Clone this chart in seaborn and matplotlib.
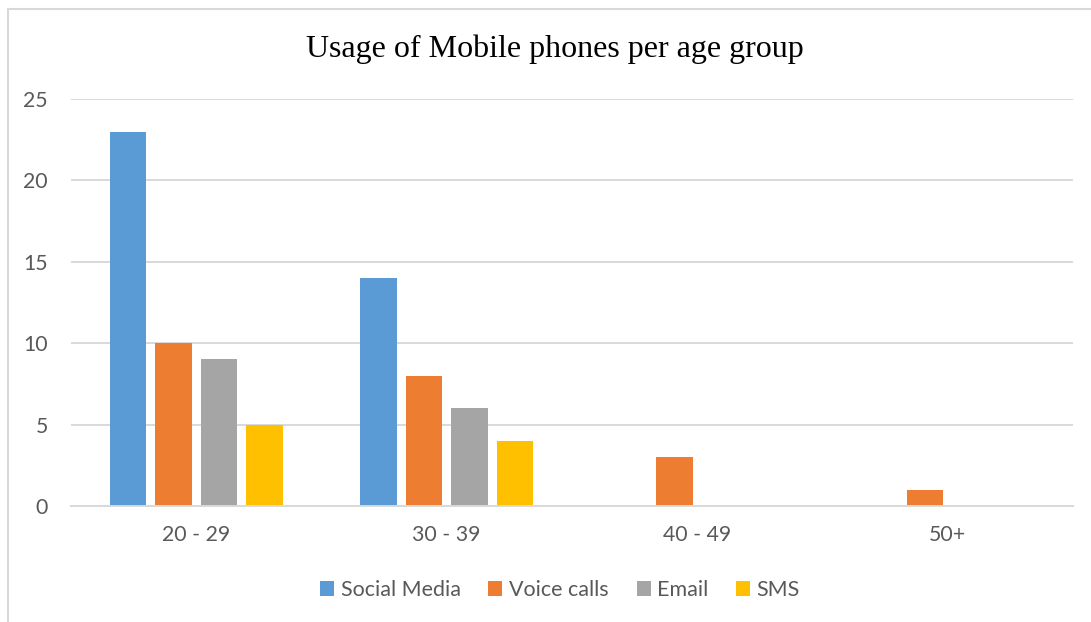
import matplotlib
matplotlib.use("Agg")
import matplotlib.pyplot as plt
from matplotlib.lines import Line2D
import seaborn as sns
import pandas as pd

age_groups = ["20 - 29", "30 - 39", "40 - 49", "50+"]
social_media = [23, 14, 0, 0]
voice_calls = [10, 8, 3, 1]
email = [9, 6, 0, 0]
sms = [5, 4, 0, 0]
series_names = ["Social Media", "Voice calls", "Email", "SMS"]
y_ticks = [0, 5, 10, 15, 20, 25]
colors = ["#5B9BD5", "#ED7D31", "#A5A5A5", "#FFC000"]

rows = []
for name, vals in zip(series_names, [social_media, voice_calls, email, sms]):
    for grp, v in zip(age_groups, vals):
        rows.append({"Age group": grp, "Usage": name, "Count": v})
df = pd.DataFrame(rows)

sns.set_theme(style="white")
plt.rcParams["font.family"] = ["Lato", "DejaVu Sans"]

fig = plt.figure(figsize=(10.91, 6.22), dpi=100)
ax = fig.add_axes([71 / 1091, 116 / 622, (1073 - 71) / 1091, (506 - 99) / 622])

sns.barplot(data=df, x="Age group", y="Count", hue="Usage", order=age_groups,
            hue_order=series_names, palette=colors, width=0.725, gap=0.2,
            saturation=1, edgecolor="none", linewidth=0, legend=True, ax=ax)

ax.set_ylim(0, 25)
ax.set_yticks(y_ticks)
ax.set_xlim(-0.5, len(age_groups) - 0.5)
ax.yaxis.grid(True, color="#D9D9D9", linewidth=1.4)
ax.set_axisbelow(True)
for side in ["left", "right", "top"]:
    ax.spines[side].set_visible(False)
ax.spines["bottom"].set_color("#D9D9D9")
ax.spines["bottom"].set_linewidth(1.4)
ax.tick_params(axis="both", length=0, labelsize=15.3, colors="#595959")
ax.tick_params(axis="y", pad=16.5)
ax.tick_params(axis="x", pad=14)
ax.set_xlabel("")
ax.set_ylabel("")

fig.text(555 / 1091, 1 - 49 / 622, "Usage of Mobile phones per age group",
         ha="center", va="center", fontsize=23, color="black",
         family=["Liberation Serif", "DejaVu Serif"])

handles, labels = ax.get_legend_handles_labels()
ax.legend(handles, labels, loc="center", bbox_to_anchor=(560 / 1091, 1 - 590 / 622),
          bbox_transform=fig.transFigure, ncol=4, frameon=False, fontsize=15.5,
          handlelength=0.65, handleheight=0.65, handletextpad=0.3, columnspacing=1.3,
          labelcolor="#595959")

# chart frame
fig.add_artist(Line2D([7.5 / 1091, 7.5 / 1091], [1 - 9 / 622, 0], transform=fig.transFigure,
                      color="#D9D9D9", linewidth=1.5))
fig.add_artist(Line2D([7.5 / 1091, 1], [1 - 9 / 622, 1 - 9 / 622], transform=fig.transFigure,
                      color="#D9D9D9", linewidth=1.5))

fig.savefig("out.png", dpi=100)
